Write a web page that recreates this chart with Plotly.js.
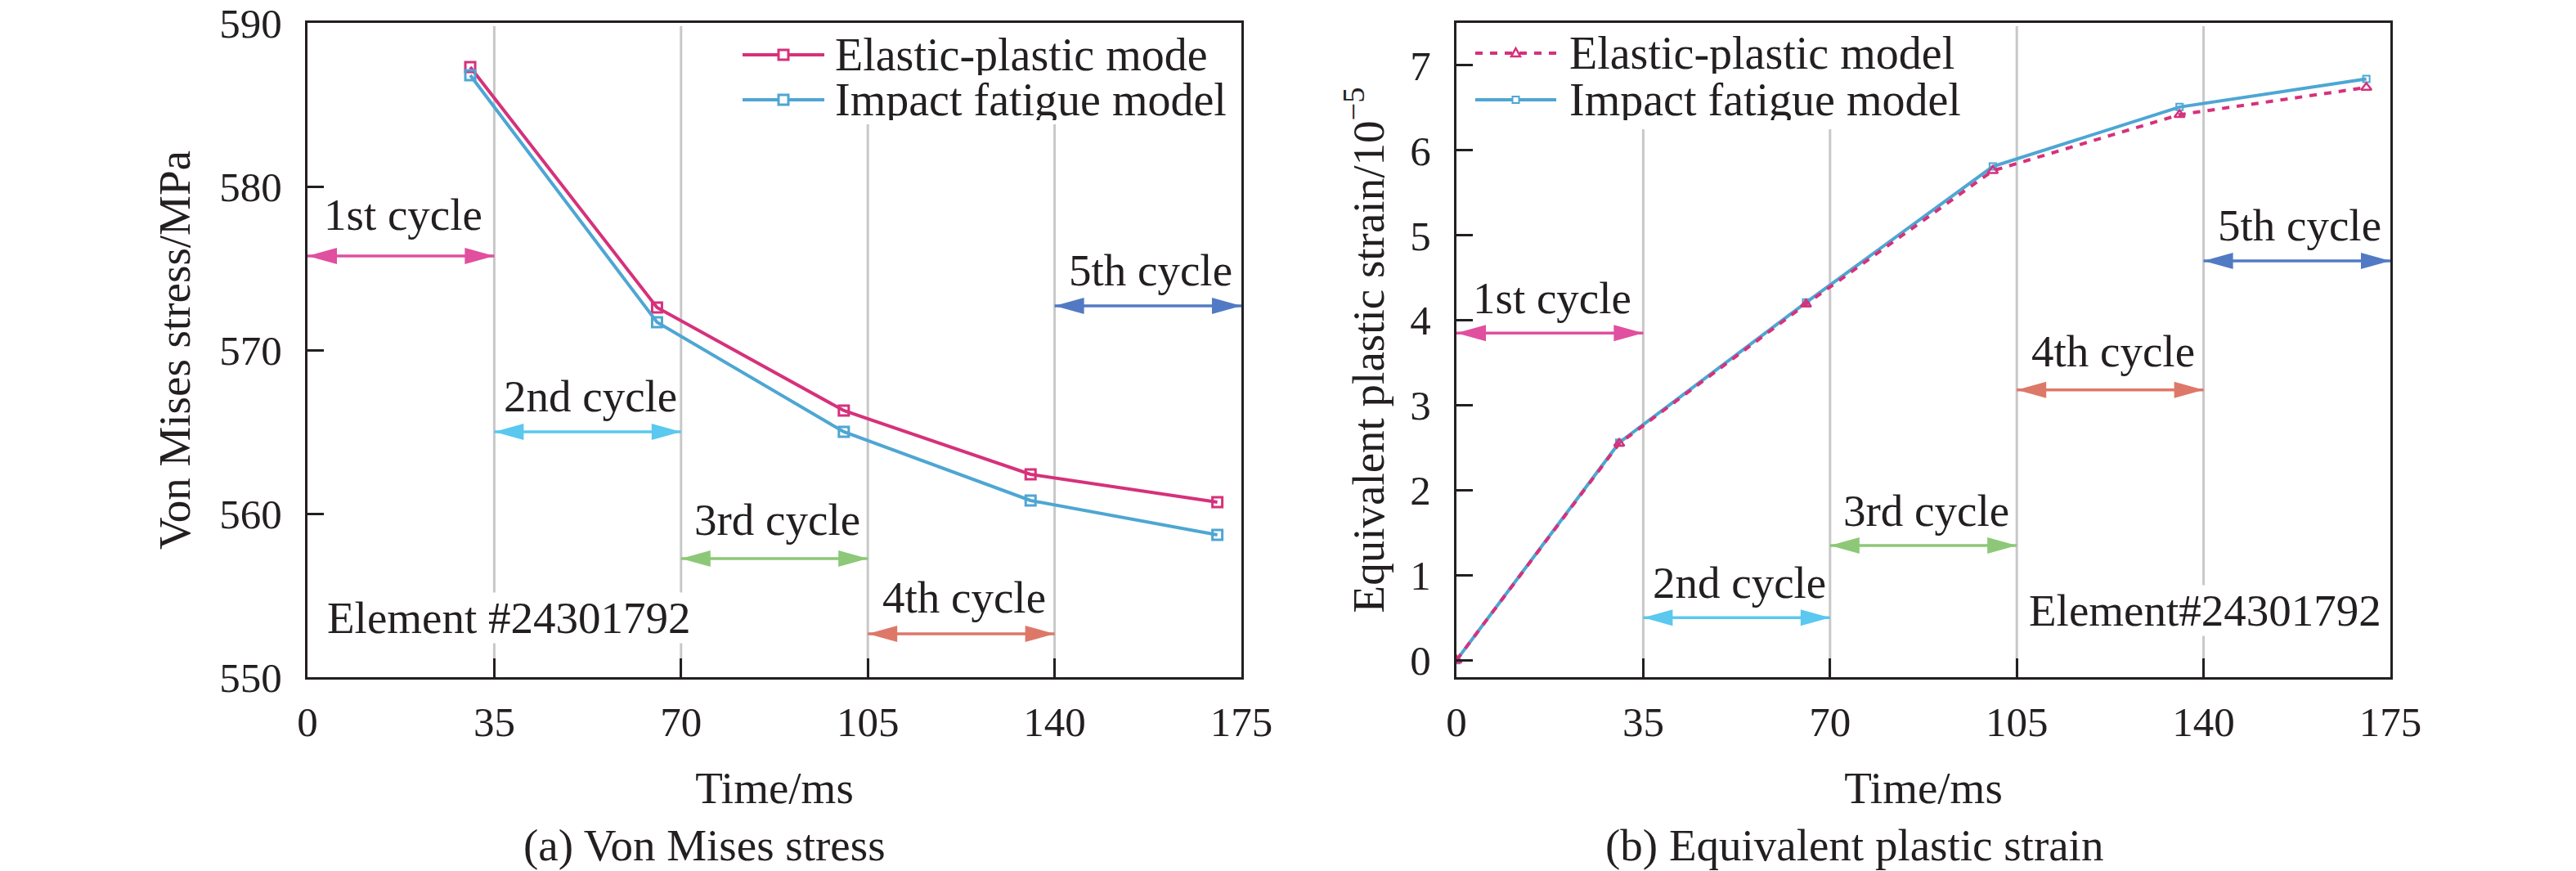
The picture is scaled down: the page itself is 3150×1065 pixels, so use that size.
<!DOCTYPE html>
<html>
<head>
<meta charset="utf-8">
<script src="https://cdn.plot.ly/plotly-3.0.1.min.js"></script>
<style>html,body{margin:0;padding:0;background:#fff;}</style>
</head>
<body>
<div id="chart" style="width:3150px;height:1065px;"></div>
<script>
// ---- data ----
const stressTime = [30.5, 65.5, 100.5, 135.5, 170.5];
const stressElastic = [587.3, 572.6, 566.3, 562.4, 560.7];
const stressImpact = [586.8, 571.7, 565.0, 560.8, 558.7];

const strainTime = [0, 30.5, 65.5, 100.5, 135.5, 170.5];
const strainElastic = [0, 2.55, 4.19, 5.76, 6.42, 6.74];
const strainImpact = [0, 2.56, 4.21, 5.81, 6.51, 6.84];

const xTickVals = [0, 35, 70, 105, 140, 175];
const stressTickVals = [550, 560, 570, 580, 590];
const strainTickVals = [0, 1, 2, 3, 4, 5, 6, 7];

const cycleBounds = [35, 70, 105, 140];
const cycleLabels = ['1st cycle', '2nd cycle', '3rd cycle', '4th cycle', '5th cycle'];
const cycleStart = [0, 35, 70, 105, 140];
const cycleEnd = [35, 70, 105, 140, 175];
const cycleColors = ['#e14f9f', '#5ac8ef', '#8dc878', '#dd7868', '#527ac4'];

const stressArrowY = [575.75, 565.0, 557.25, 552.65, 572.7];
const stressLabelY = [578.3, 567.2, 559.65, 554.9, 574.9];
const strainArrowY = [3.85, 0.5, 1.35, 3.18, 4.70];
const strainLabelY = [4.26, 0.91, 1.76, 3.64, 5.12];

const seriesNamesA = ['Elastic-plastic mode', 'Impact fatigue model'];
const seriesNamesB = ['Elastic-plastic model', 'Impact fatigue model'];
const elementLabelA = 'Element #24301792';
const elementLabelB = 'Element#24301792';

// ---- style ----
const MAG = '#d6317b';
const BLU = '#4ea6d3';
const INK = '#231f20';
const GRID = '#c8c8c8';
const FONT = 'Liberation Serif, Times New Roman, serif';
const W = 3150, H = 1065;
const px = v => v / W;
const py = v => 1 - v / H;

const traces = [
  {x: stressTime, y: stressElastic, name: seriesNamesA[0], xaxis: 'x', yaxis: 'y',
   mode: 'lines+markers', line: {color: MAG, width: 4},
   marker: {symbol: 'square-open', size: 12, color: MAG, line: {width: 3, color: MAG}}},
  {x: stressTime, y: stressImpact, name: seriesNamesA[1], xaxis: 'x', yaxis: 'y',
   mode: 'lines+markers', line: {color: BLU, width: 4},
   marker: {symbol: 'square-open', size: 12, color: BLU, line: {width: 3, color: BLU}}},
  {x: strainTime, y: strainImpact, name: seriesNamesB[1], xaxis: 'x2', yaxis: 'y2',
   mode: 'lines+markers', line: {color: BLU, width: 4},
   marker: {symbol: 'square-open', size: 8, color: BLU, line: {width: 2, color: BLU}}},
  {x: strainTime, y: strainElastic, name: seriesNamesB[0], xaxis: 'x2', yaxis: 'y2',
   mode: 'lines+markers', line: {color: MAG, width: 4, dash: '9px,9px'},
   marker: {symbol: 'triangle-up-open', size: 11, color: MAG, line: {width: 2.5, color: MAG}}}
];

const shapes = [];
const annotations = [];

// grey cycle boundaries; top end stops under the legend where the legend covers them
function addCycles(xr, yr, arrowY, labelY, coveredTop) {
  cycleBounds.forEach((b, k) => {
    shapes.push({type: 'line', xref: xr, yref: yr + ' domain', x0: b, x1: b, y0: 0, y1: coveredTop[k],
      line: {color: GRID, width: 3}, layer: 'below'});
  });
  for (let i = 0; i < cycleLabels.length; i++) {
    const c = cycleColors[i];
    shapes.push({type: 'line', xref: xr, yref: yr, x0: cycleStart[i], x1: cycleEnd[i],
      y0: arrowY[i], y1: arrowY[i], line: {color: c, width: 3.5}, layer: 'above'});
    shapes.push({type: 'path', xref: xr, yref: yr, xsizemode: 'pixel', ysizemode: 'pixel',
      xanchor: cycleEnd[i], yanchor: arrowY[i], path: 'M0,0 L-36,10 L-36,-10 Z',
      fillcolor: c, line: {width: 0}, layer: 'above'});
    shapes.push({type: 'path', xref: xr, yref: yr, xsizemode: 'pixel', ysizemode: 'pixel',
      xanchor: cycleStart[i], yanchor: arrowY[i], path: 'M0,0 L36,10 L36,-10 Z',
      fillcolor: c, line: {width: 0}, layer: 'above'});
    annotations.push({xref: xr, yref: yr, x: (cycleStart[i] + cycleEnd[i]) / 2 + 0.5, y: labelY[i],
      text: cycleLabels[i], showarrow: false, xanchor: 'center', yanchor: 'middle',
      font: {family: FONT, size: 55, color: INK}});
  }
}
addCycles('x', 'y', stressArrowY, stressLabelY, [0.995, 0.995, 0.845, 0.845]);
addCycles('x2', 'y2', strainArrowY, strainLabelY, [0.8375, 0.8375, 0.995, 0.995]);

// custom legends (long sample lines like the reference)
function legendRow(x0, x1, xt, yRow, color, dash, markerPath, mw, label) {
  shapes.push({type: 'line', xref: 'paper', yref: 'paper', x0: px(x0), x1: px(x1), y0: py(yRow), y1: py(yRow),
    line: {color: color, width: 4, dash: dash}, layer: 'above'});
  shapes.push({type: 'path', xref: 'paper', yref: 'paper', xsizemode: 'pixel', ysizemode: 'pixel',
    xanchor: px((x0 + x1) / 2), yanchor: py(yRow), path: markerPath,
    fillcolor: '#ffffff', line: {color: color, width: mw}, layer: 'above'});
  annotations.push({xref: 'paper', yref: 'paper', x: px(xt), y: py(yRow), text: label, showarrow: false,
    xanchor: 'left', yanchor: 'middle', height: 50, valign: 'middle', borderpad: 0,
    font: {family: FONT, size: 56, color: INK}});
}
const sqBig = 'M-6,-6 L6,-6 L6,6 L-6,6 Z';
const sqSmall = 'M-4,-4 L4,-4 L4,4 L-4,4 Z';
const tri = 'M0,6 L5.5,-4 L-5.5,-4 Z';
legendRow(908, 1008, 1020, 67, MAG, 'solid', sqBig, 3, seriesNamesA[0]);
legendRow(908, 1008, 1020, 122, BLU, 'solid', sqBig, 3, seriesNamesA[1]);
legendRow(1804, 1903, 1918, 65, MAG, '9px,9px', tri, 2.5, seriesNamesB[0]);
legendRow(1804, 1903, 1918, 122, BLU, 'solid', sqSmall, 2, seriesNamesB[1]);

annotations.push({xref: 'x', yref: 'y', x: 37.8, y: 553.65, text: elementLabelA, showarrow: false,
  xanchor: 'center', yanchor: 'middle', bgcolor: '#ffffff', borderpad: 0,
  font: {family: FONT, size: 55, color: INK}});
annotations.push({xref: 'x2', yref: 'y2', x: 140.3, y: 0.58, text: elementLabelB, showarrow: false,
  xanchor: 'center', yanchor: 'middle', bgcolor: '#ffffff', borderpad: 0,
  font: {family: FONT, size: 55, color: INK}});
annotations.push({xref: 'paper', yref: 'paper', x: px(861), y: py(1033),
  text: '(a) Von Mises stress', showarrow: false, xanchor: 'center', yanchor: 'middle',
  font: {family: FONT, size: 55, color: INK}});
annotations.push({xref: 'paper', yref: 'paper', x: px(2267), y: py(1033),
  text: '(b) Equivalent plastic strain', showarrow: false, xanchor: 'center', yanchor: 'middle',
  font: {family: FONT, size: 55, color: INK}});

const axisCommon = {
  ticks: 'inside', tickwidth: 3, tickcolor: INK, linecolor: INK, linewidth: 3, mirror: true,
  showline: true, showgrid: false, zeroline: false,
  tickfont: {family: FONT, size: 51, color: INK}
};
function xAx(domain, anchor) {
  return Object.assign({}, axisCommon, {domain: domain, anchor: anchor, range: [0, 175],
    tickvals: xTickVals, ticklen: 23, ticklabelstandoff: 8,
    title: {text: 'Time/ms', font: {family: FONT, size: 55, color: INK}, standoff: 34}});
}

const layout = {
  width: W, height: H,
  margin: {l: 0, r: 0, t: 0, b: 0},
  paper_bgcolor: '#ffffff', plot_bgcolor: '#ffffff',
  font: {family: FONT, color: INK},
  showlegend: false,
  xaxis: xAx([px(376), px(1518)], 'y'),
  xaxis2: xAx([px(1781), px(2923)], 'y2'),
  yaxis: Object.assign({}, axisCommon, {domain: [py(828), py(28)], anchor: 'x',
    range: [550, 590], tickvals: stressTickVals, ticklen: 20, ticklabelstandoff: 18,
    title: {text: 'Von Mises stress/MPa', font: {family: FONT, size: 55, color: INK}, standoff: 19}}),
  yaxis2: Object.assign({}, axisCommon, {domain: [py(828), py(28)], anchor: 'x2',
    range: [-0.2, 7.5], tickvals: strainTickVals, ticklen: 20, ticklabelstandoff: 18,
    title: {text: 'Equivalent plastic strain/10<sup>\u22125</sup>', font: {family: FONT, size: 55, color: INK}, standoff: 15}}),
  shapes: shapes,
  annotations: annotations
};

Plotly.newPlot('chart', traces, layout, {displayModeBar: false, staticPlot: true});
</script>
</body>
</html>
